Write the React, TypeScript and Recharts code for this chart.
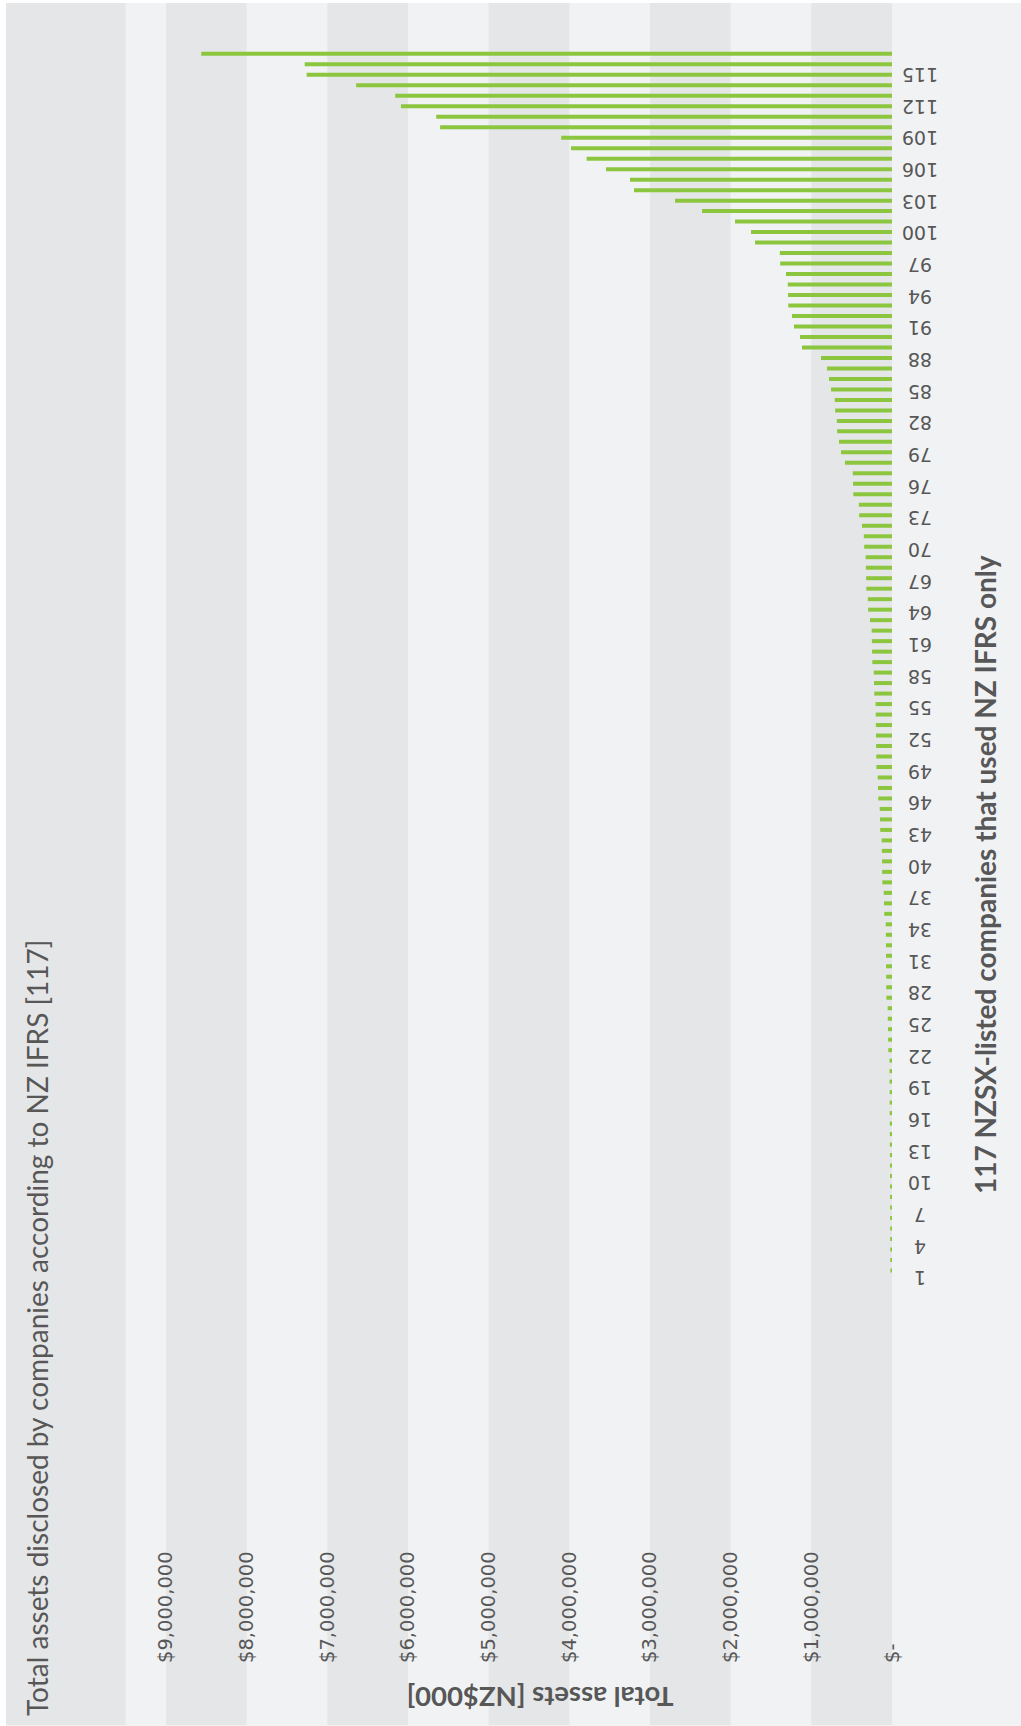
import React from 'react';
import { BarChart, Bar, XAxis, YAxis, ReferenceArea } from 'recharts';

// Company rank (1 = smallest total assets, 117 = largest)
const companyIds: string[] = Array.from({ length: 117 }, (_, i) => String(i + 1));

// Total assets, NZ$000, company 1..117
const totalAssets: number[] = [
  20000, 21000, 21500, 22000, 22500, 23000, 23500, 24000, 24500, 25000,
  25500, 26000, 26500, 27000, 27500, 28000, 28500, 29000, 29500, 30000,
  31000, 46000, 48000, 50000, 52000, 54000, 70000, 71000, 72000, 73000,
  74000, 75000, 76000, 78000, 96000, 99000, 102000, 120000, 122000, 124000,
  126000, 128000, 146000, 149000, 152000, 171000, 174000, 177000, 193000, 195000,
  197000, 199000, 200000, 202000, 204000, 220000, 223000, 226000, 244000, 247000,
  249000, 252000, 273000, 296000, 300000, 318000, 321000, 324000, 327000, 345000,
  349000, 372000, 407000, 411000, 480000, 483000, 486000, 583000, 632000, 657000,
  680000, 684000, 705000, 709000, 756000, 781000, 806000, 880000, 1116000, 1140000,
  1215000, 1240000, 1286000, 1289000, 1292000, 1314000, 1386000, 1390000, 1698000, 1748000,
  1946000, 2355000, 2690000, 3198000, 3248000, 3545000, 3786000, 3979000, 4101000, 5602000,
  5650000, 6087000, 6158000, 6643000, 7256000, 7280000, 8563000,
];

const valueTicks: number[] = [0, 1000000, 2000000, 3000000, 4000000, 5000000, 6000000, 7000000, 8000000, 9000000];
const axisMax = 10983000;
const shadedBands: [number, number][] = [
  [0, 1000000],
  [2000000, 3000000],
  [4000000, 5000000],
  [6000000, 7000000],
  [8000000, 9000000],
  [9500000, axisMax],
];

const chartTitle = 'Total assets disclosed by companies according to NZ IFRS [117]';
const valueAxisTitle = 'Total assets [NZ$000]';
const categoryAxisTitle = '117 NZSX-listed companies that used NZ IFRS only';

const data = companyIds.map((id, i) => ({ id, value: totalAssets[i] }));

const TEXT = '#575757';
const fmt = (v: number) => (v === 0 ? '$-' : '$' + v.toLocaleString('en-US'));

const XTick = (props: any) => {
  const { x, payload } = props;
  const y0 = 1663;
  return (
    <text
      x={x}
      y={y0}
      transform={`rotate(-90 ${x} ${y0})`}
      textAnchor="start"
      dominantBaseline="central"
      fontFamily="DejaVu Sans"
      fontSize={19.5}
      fill={TEXT}
    >
      {fmt(payload.value)}
    </text>
  );
};

const YTick = (props: any) => {
  const { y, payload } = props;
  const n = Number(payload.value);
  if ((n - 1) % 3 !== 0) return <g />;
  const x0 = 920;
  // labels drift slightly below their bars toward the bottom of the axis
  const yy = y + (7.7 * (115 - n)) / 114;
  return (
    <text
      x={x0}
      y={yy}
      transform={`rotate(180 ${x0} ${yy})`}
      textAnchor="middle"
      dominantBaseline="central"
      fontFamily="DejaVu Sans"
      fontSize={19}
      fill={TEXT}
    >
      {payload.value}
    </text>
  );
};

export default function App() {
  return (
    <div style={{ position: 'absolute', left: 0, top: 0, width: 1021, height: 1726, background: '#ffffff', overflow: 'hidden' }}>
      <div style={{ position: 'absolute', left: 6, top: 3, width: 1015, height: 1723, background: '#f1f2f4' }} />
      <div style={{ position: 'absolute', left: 0, top: 0 }}>
        <BarChart
          width={1021}
          height={1726}
          data={data}
          layout="vertical"
          margin={{ top: 3, right: 128, bottom: 0, left: 6 }}
        >
          <XAxis
            type="number"
            domain={[0, axisMax]}
            allowDataOverflow
            reversed
            ticks={valueTicks}
            interval={0}
            tick={<XTick />}
            tickLine={false}
            axisLine={false}
            height={1}
          />
          <YAxis
            yAxisId="main"
            type="category"
            dataKey="id"
            orientation="right"
            reversed
            width={1}
            padding={{ top: 45.8, bottom: 449.1 }}
            interval={0}
            tick={<YTick />}
            tickLine={false}
            axisLine={false}
          />
          <YAxis yAxisId="bg" type="category" dataKey="id" hide />
          {shadedBands.map(([a, b]) => (
            <ReferenceArea
              key={a}
              yAxisId="bg"
              x1={a}
              x2={b}
              fill="#e5e6e8"
              fillOpacity={1}
              stroke="none"
              ifOverflow="visible"
            />
          ))}
          <Bar yAxisId="main" dataKey="value" fill="#8cc63f" barSize={4} isAnimationActive={false} />
        </BarChart>
      </div>
      <svg width={1021} height={1726} style={{ position: 'absolute', left: 0, top: 0, pointerEvents: 'none' }}>
        <text
          x={48}
          y={1716}
          transform="rotate(-90 48 1716)"
          textAnchor="start"
          fontFamily="Lato"
          fontSize={28}
          fill={TEXT}
        >
          {chartTitle}
        </text>
        <text
          x={540}
          y={1687}
          transform="rotate(180 540 1687)"
          textAnchor="middle"
          fontFamily="Lato"
          fontWeight="bold"
          fontSize={27.5}
          fill={TEXT}
        >
          {valueAxisTitle}
        </text>
        <text
          x={996}
          y={1194}
          transform="rotate(-90 996 1194)"
          textAnchor="start"
          fontFamily="Lato"
          fontWeight="bold"
          fontSize={28}
          fill={TEXT}
        >
          {categoryAxisTitle}
        </text>
      </svg>
    </div>
  );
}
